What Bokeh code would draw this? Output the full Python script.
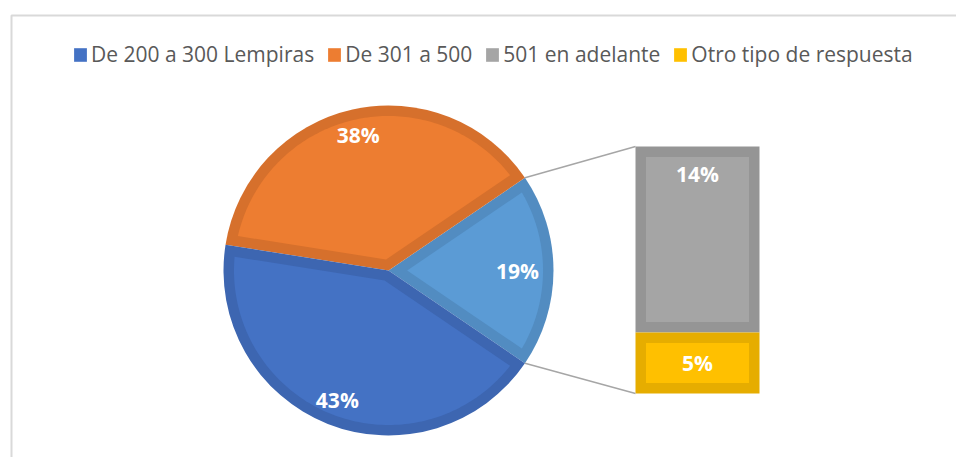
import numpy as np
from bokeh.plotting import figure
from bokeh.models import Range1d, Legend, LegendItem
from bokeh.core.properties import value
from bokeh.embed import file_html
from bokeh.resources import INLINE

# ---------------- data ----------------
categories = ["De 200 a 300 Lempiras", "De 301 a 500", "501 en adelante", "Otro tipo de respuesta"]
pie_values = [43, 38]            # main pie slices (De 200 a 300, De 301 a 500)
bar_values = [14.3, 4.7]         # split-off part: 501 en adelante, Otro tipo de respuesta
pie_fill = ["#4472C4", "#ED7D31"]
pie_edge = ["#3D66B1", "#D6702C"]
other_fill = "#5B9BD5"
other_edge = "#528CC1"
bar_fill = ["#A5A5A5", "#FFC000"]
bar_edge = ["#959595", "#E6AD00"]

# ---------------- figure ----------------
W, H = 956, 457
CX, CY = 388, 270     # pie centre in frame pixels
p = figure(width=W, height=H, output_backend="svg", toolbar_location=None,
           x_range=Range1d(-CX, W - CX), y_range=Range1d(-(H - CY), CY),
           min_border=0)
p.axis.visible = False
p.grid.visible = False
p.outline_line_color = None
p.background_fill_color = "white"

# chart area border (cropped at right/bottom)
p.line(x=[-CX + 11, -CX + 11, W], y=[-(H + 20), CY - 15, CY - 15], line_color="#D9D9D9", line_width=2)

R = 165.0
D = 10.5

def inset_sector(a1, a2, r, d):
    Ri = r - d
    half = (a2 - a1) / 2
    mid = (a1 + a2) / 2
    s = d / np.sin(half)
    da = np.arcsin(d / Ri)
    t = np.linspace(a1 + da, a2 - da, 120)
    xs = [s * np.cos(mid)] + list(Ri * np.cos(t))
    ys = [s * np.sin(mid)] + list(Ri * np.sin(t))
    return xs, ys

other_total = sum(bar_values)
total = sum(pie_values) + other_total
slice_vals = [other_total] + pie_values[::-1]          # counter-clockwise: other, 301-500, 200-300
slice_fill = [other_fill] + pie_fill[::-1]
slice_edge = [other_edge] + pie_edge[::-1]
slice_label_r = [129, 139, 139]

a = -np.pi * other_total / total
starts, ends = [], []
for v in slice_vals:
    starts.append(a)
    a = a + 2 * np.pi * v / total
    ends.append(a)

renderers = {}
for i, v in enumerate(slice_vals):
    p.wedge(x=0, y=0, radius=R, start_angle=starts[i], end_angle=ends[i],
            fill_color=slice_edge[i], line_color=None)
    xs, ys = inset_sector(starts[i], ends[i], R, D)
    r_ = p.patch(x=xs, y=ys, fill_color=slice_fill[i], line_color=None)
    renderers[i] = r_
    mid = (starts[i] + ends[i]) / 2
    p.text(x=[slice_label_r[i] * np.cos(mid)], y=[slice_label_r[i] * np.sin(mid)],
           text=[f"{round(v / total * 100)}%"], text_color="white",
           text_font=value("Open Sans"), text_font_style="bold", text_font_size="21px",
           text_align="center", text_baseline="middle")

# ---------------- bar of pie ----------------
bar_left, bar_right = 247, 371
px_per_unit = 247.0 / other_total
bar_bottom = -123
bottoms, tops = [], []
b = bar_bottom
for v in bar_values[::-1]:            # yellow at bottom, gray on top
    bottoms.append(b)
    b = b + v * px_per_unit
    tops.append(b)
bottoms = bottoms[::-1]
tops = tops[::-1]

bar_renderers = []
for i, v in enumerate(bar_values):
    p.quad(left=bar_left, right=bar_right, bottom=bottoms[i], top=tops[i],
           fill_color=bar_edge[i], line_color=None)
    r_ = p.quad(left=bar_left + D, right=bar_right - D, bottom=bottoms[i] + D, top=tops[i] - D,
                fill_color=bar_fill[i], line_color=None)
    bar_renderers.append(r_)
    p.text(x=[(bar_left + bar_right) / 2], y=[tops[i] - 27 if i == 0 else (bottoms[i] + tops[i]) / 2],
           text=[f"{round(v)}%"], text_color="white",
           text_font=value("Open Sans"), text_font_style="bold", text_font_size="21px",
           text_align="center", text_baseline="middle")

# connector lines
p.line(x=[R * np.cos(starts[0]), bar_left], y=[R * np.sin(starts[0]), bottoms[1]],
       line_color="#A6A6A6", line_width=1.5)
p.line(x=[R * np.cos(ends[0]), bar_left], y=[R * np.sin(ends[0]), tops[0]],
       line_color="#A6A6A6", line_width=1.5)

# ---------------- legend ----------------
legend = Legend(items=[
    LegendItem(label=categories[0], renderers=[renderers[2]]),
    LegendItem(label=categories[1], renderers=[renderers[1]]),
    LegendItem(label=categories[2], renderers=[bar_renderers[0]]),
    LegendItem(label=categories[3], renderers=[bar_renderers[1]]),
], orientation="horizontal", location=(72, 389),
    label_text_font="Open Sans", label_text_font_size="21px", label_text_color="#595959",
    glyph_width=16, glyph_height=17, label_standoff=3, spacing=12, padding=0, margin=0,
    border_line_color=None, background_fill_alpha=0)
p.add_layout(legend, "center")

open("out.html", "w").write(file_html(p, INLINE))
